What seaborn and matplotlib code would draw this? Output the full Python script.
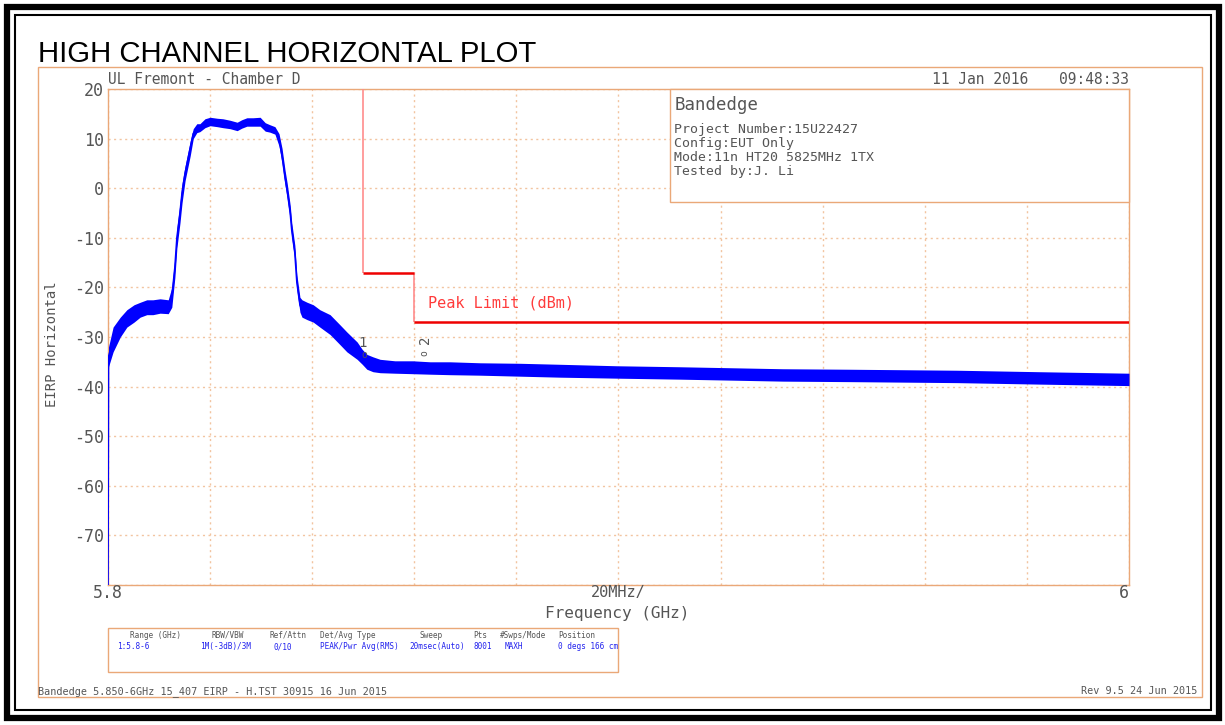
import numpy as np
import pandas as pd
import matplotlib
matplotlib.use("Agg")
import matplotlib.pyplot as plt
from matplotlib.patches import Rectangle
import seaborn as sns

# trace (GHz, dBm) - mid line and the noise band edges
freq_ghz = [5.8000, 5.8001, 5.8010, 5.8024, 5.8037, 5.8051, 5.8063, 5.8076, 5.8088, 5.8102,
            5.8118, 5.8125, 5.8131, 5.8135, 5.8141, 5.8145, 5.8151, 5.8155, 5.8161, 5.8167,
            5.8174, 5.8180, 5.8190, 5.8200, 5.8214, 5.8225, 5.8239, 5.8253, 5.8262, 5.8272,
            5.8284, 5.8298, 5.8308, 5.8317, 5.8327, 5.8335, 5.8341, 5.8347, 5.8351, 5.8357,
            5.8360, 5.8366, 5.8370, 5.8376, 5.8380, 5.8390, 5.8402, 5.8415, 5.8435, 5.8454,
            5.8468, 5.8488, 5.8498, 5.8507, 5.8519, 5.8533, 5.8562, 5.8597, 5.8631, 5.8670,
            5.8729, 5.8807, 5.8885, 5.8997, 5.9120, 5.9322, 5.9453, 5.9663, 5.9825, 6.0000]
level_mid = [-80, -34, -30.5, -28, -26, -25, -24.5, -24, -24, -23.8,
             -24, -22, -16, -10, -5, -1, 3, 5, 8, 11,
             12, 12.2, 13, 13.4, 13.2, 13.0, 12.8, 12.4, 12.9, 13.3,
             13.3, 13.3, 12.3, 12.0, 11.6, 10, 6.5, 2, -0.5, -5,
             -8.5, -13, -19, -23.5, -24.5, -25, -25.2, -26.2, -27.5, -29.5,
             -31, -33, -34.3, -35.2, -35.8, -36, -36.1, -36.2, -36.3, -36.4,
             -36.5, -36.7, -36.9, -37.1, -37.3, -37.7, -37.8, -38.0, -38.3, -38.6]
level_lo = [-80, -36, -33, -30, -28, -27, -26, -25.5, -25.5, -25.2,
            -25.3, -24, -18, -12, -7, -3, 1.5, 3.5, 6.5, 10,
            11.2, 11.4, 12.2, 12.6, 12.4, 12.2, 12, 11.6, 12.1, 12.5,
            12.5, 12.5, 11.5, 11.3, 10.9, 8.5, 5, 0.5, -2, -6.5,
            -10, -14.5, -20.5, -25, -26, -26.5, -27, -28, -29.5, -31.5,
            -33, -34.5, -35.5, -36.5, -37, -37.2, -37.3, -37.4, -37.5, -37.6,
            -37.7, -37.9, -38.1, -38.3, -38.5, -38.9, -39, -39.2, -39.5, -39.8]
level_hi = [-80, -32, -28, -26, -24.5, -23.5, -23, -22.5, -22.5, -22.3,
            -22.5, -20, -14, -8, -3, 1, 4.5, 6.5, 9.5, 12,
            13, 13, 14, 14.3, 14.1, 14, 13.7, 13.3, 13.8, 14.2,
            14.2, 14.3, 13.2, 12.8, 12.4, 11, 8, 3.5, 1, -3.5,
            -7, -11.5, -17.5, -22, -22.5, -23, -23.5, -24.5, -25.5, -27.5,
            -29, -31, -32.5, -33.5, -34, -34.5, -34.8, -34.8, -35, -35,
            -35.2, -35.3, -35.5, -35.8, -36, -36.4, -36.5, -36.7, -37, -37.3]

# peak limit steps (dBm)
limit_start = [5.85, 5.86]
limit_stop = [5.86, 6.0]
limit_level = [-17, -27]

y_ticks = [20, 10, 0, -10, -20, -30, -40, -50, -60, -70, -80]
y_labels = ["20", "10", "0", "-10", "-20", "-30", "-40", "-50", "-60", "-70", ""]

info_lines = ["Project Number:15U22427", "Config:EUT Only",
              "Mode:11n HT20 5825MHz 1TX", "Tested by:J. Li"]

set_heads = ["Range (GHz)", "RBW/VBW", "Ref/Attn", "Det/Avg Type", "Sweep",
             "Pts", "#Swps/Mode", "Position"]
set_values = ["1:5.8-6", "1M(-3dB)/3M", "0/10", "PEAK/Pwr Avg(RMS)", "20msec(Auto)",
              "8001", "MAXH", "0 degs 166 cm"]
head_x = [130, 211, 269, 320, 419, 473, 500, 558]
value_x = [117, 200, 274, 320, 409, 473, 505, 558]

W, H = 1225, 725
ORANGE = "#eaa878"
GRID = "#f2c4a0"
BLUE = "#0000ff"
TXT = "#555555"
MONO = "DejaVu Sans Mono"

sns.set_theme(style="white")
plt.rcParams["font.family"] = [MONO]

fig = plt.figure(figsize=(W / 100, H / 100), dpi=100)
fig.patch.set_facecolor("white")


def fx(x):
    return x / W


def fy(y):
    return 1 - y / H


ax_l, ax_r, ax_t, ax_b = 108, 1129, 89, 585
ax = fig.add_axes([fx(ax_l), fy(ax_b), (ax_r - ax_l) / W, (ax_b - ax_t) / H])
ax.set_facecolor("white")

df = pd.DataFrame({"freq": freq_ghz, "mid": level_mid, "lo": level_lo, "hi": level_hi})
ax.fill_between(df["freq"], df["lo"], df["hi"], color=BLUE, lw=0, zorder=3)
sns.lineplot(data=df, x="freq", y="mid", color=BLUE, lw=1.2, ax=ax, zorder=4)

# limit line: pale verticals, bold red horizontals
ax.vlines(limit_start[0], limit_level[0], 20, color="#ff8c8c", lw=1.2, zorder=5)
ax.vlines(limit_start[1], limit_level[1], limit_level[0], color="#ff8c8c", lw=1.2, zorder=5)
ax.hlines(limit_level, limit_start, limit_stop, color="#ee0000", lw=1.8, zorder=5)
ax.text(5.8627, -23.2, "Peak Limit (dBm)", color="#ff3b3b", fontsize=11, va="center", zorder=6)

# markers
ax.text(5.8499, -31.2, "1", color=TXT, fontsize=10, ha="center", va="center", zorder=6)
ax.text(5.8503, -33.6, "o", color=TXT, fontsize=7, ha="center", va="center", zorder=6)
ax.text(5.8620, -30.6, "2", color=TXT, fontsize=10, ha="center", va="center",
        rotation=90, rotation_mode="anchor", zorder=6)
ax.text(5.8620, -33.2, "o", color=TXT, fontsize=7, ha="center", va="center",
        rotation=90, rotation_mode="anchor", zorder=6)

ax.set_xlim(5.8, 6.0)
ax.set_ylim(-80, 20)
x_ticks = [5.8 + 0.02 * i for i in range(11)]
ax.set_xticks(x_ticks)
ax.set_xticklabels([""] * 11)
ax.set_yticks(y_ticks)
ax.set_yticklabels(y_labels, fontsize=12, color=TXT)
ax.tick_params(length=0, pad=3)
ax.grid(True, color=GRID, ls=(0, (1.5, 2.5)), lw=1, zorder=1)
for s in ax.spines.values():
    s.set_color(ORANGE)
    s.set_linewidth(1)
ax.set_xlabel("")
ax.set_ylabel("")

# info box inside the plot area
ax.add_patch(Rectangle((5.9101, -2.8), 6.0 - 5.9101, 22.8, facecolor="white",
                       edgecolor=ORANGE, lw=1, zorder=7, clip_on=False))

# text around the plot
fig.text(fx(108), fy(84), "UL Fremont - Chamber D", fontsize=10.5, color=TXT, va="baseline")
fig.text(fx(1028), fy(84), "11 Jan 2016", fontsize=10.5, color=TXT, va="baseline", ha="right")
fig.text(fx(1129), fy(84), "09:48:33", fontsize=10.5, color=TXT, va="baseline", ha="right")
fig.text(fx(675), fy(110), "Bandedge", fontsize=12.5, color=TXT, va="baseline")
for i, line in enumerate(info_lines):
    fig.text(fx(674), fy(133 + 14 * i), line, fontsize=9.5, color=TXT, va="baseline")

fig.text(fx(108), fy(598), "5.8", fontsize=12, color=TXT, va="baseline", ha="center")
fig.text(fx(1129), fy(598), "6", fontsize=12, color=TXT, va="baseline", ha="right")
fig.text(fx(618), fy(597), "20MHz/", fontsize=11, color=TXT, va="baseline", ha="center")
fig.text(fx(617), fy(618), "Frequency (GHz)", fontsize=11.5, color=TXT, va="baseline", ha="center")
fig.text(fx(52), fy(344), "EIRP Horizontal", fontsize=10, color=TXT, va="center", ha="center",
         rotation=90)

fig.text(fx(38), fy(62), "HIGH CHANNEL HORIZONTAL PLOT", fontsize=21.2,
         family="Liberation Sans", color="black", va="baseline")

# settings box
fig.patches.append(Rectangle((fx(108), fy(672)), (618 - 108) / W, (672 - 628) / H,
                             transform=fig.transFigure, facecolor="none",
                             edgecolor=ORANGE, lw=1))
for h, xh in zip(set_heads, head_x):
    fig.text(fx(xh), fy(638), h, fontsize=5.6, color=TXT, va="baseline")
for v, xv in zip(set_values, value_x):
    fig.text(fx(xv), fy(649), v, fontsize=5.6, color="#2222ee", va="baseline")

fig.text(fx(38), fy(694), "Bandedge 5.850-6GHz 15_407 EIRP - H.TST 30915 16 Jun 2015",
         fontsize=7.3, color=TXT, va="baseline")
fig.text(fx(1197), fy(694), "Rev 9.5 24 Jun 2015", fontsize=7.3, color=TXT,
         va="baseline", ha="right")

# outer orange frame and black double border
fig.patches.append(Rectangle((fx(38), fy(697)), (1202 - 38) / W, (697 - 67) / H,
                             transform=fig.transFigure, facecolor="none",
                             edgecolor=ORANGE, lw=1))
fig.patches.append(Rectangle((fx(7), fy(718)), (1219 - 7) / W, (718 - 7) / H,
                             transform=fig.transFigure, facecolor="none",
                             edgecolor="black", lw=4.5))
fig.patches.append(Rectangle((fx(15), fy(710)), (1211 - 15) / W, (710 - 15) / H,
                             transform=fig.transFigure, facecolor="none",
                             edgecolor="black", lw=1.5))

fig.savefig("out.png", dpi=100, facecolor="white")
